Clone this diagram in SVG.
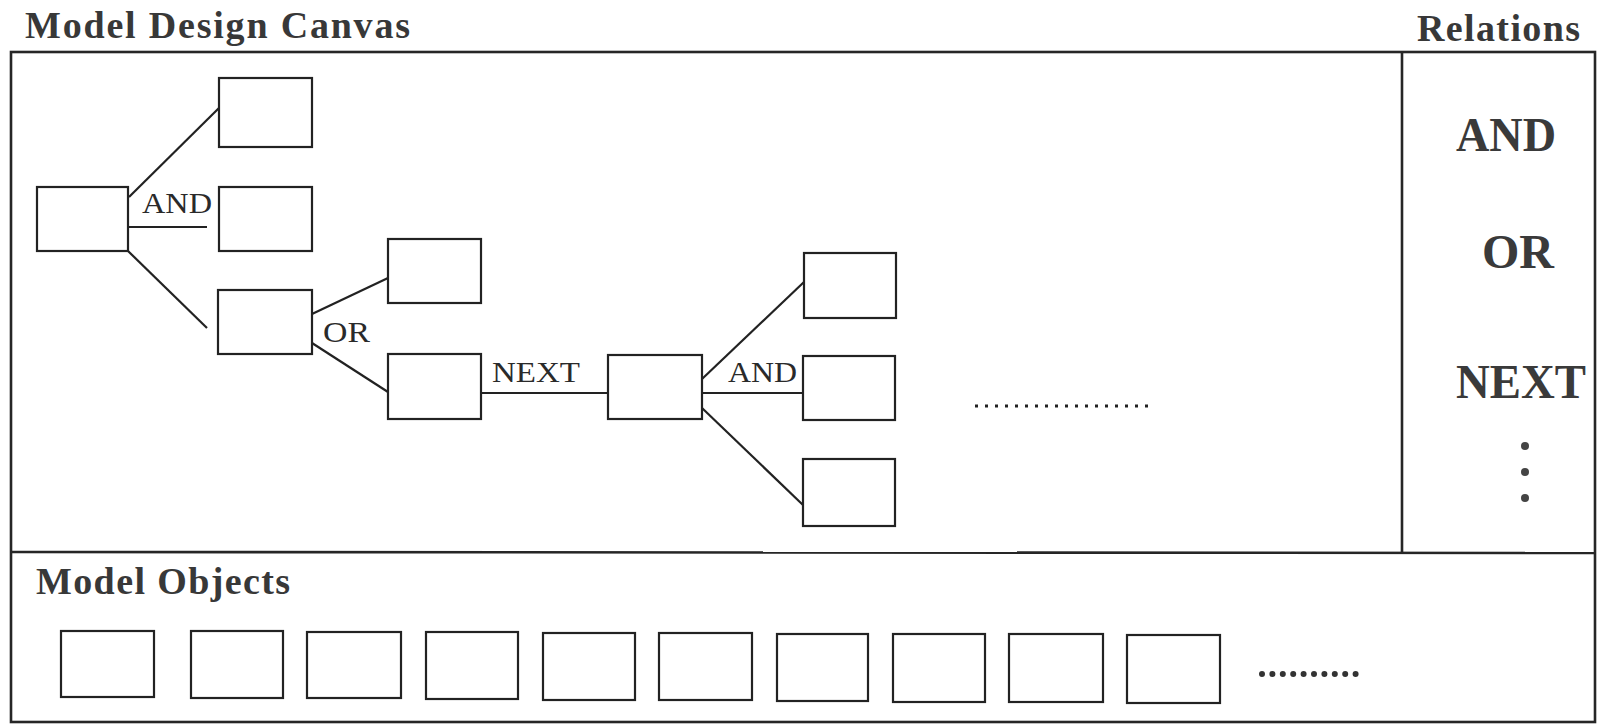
<svg xmlns="http://www.w3.org/2000/svg" width="1607" height="726" viewBox="0 0 1607 726">
<style>
  .frame{fill:none;stroke:#262626;stroke-width:2.6}
  .box{fill:none;stroke:#222;stroke-width:2.2}
  .conn{stroke:#222;stroke-width:2.2;fill:none}
  .hdr{font-family:"Liberation Serif","Times New Roman",serif;font-weight:bold;font-size:38px;fill:#383838}
  .rel{font-family:"Liberation Serif","Times New Roman",serif;font-weight:bold;font-size:48px;fill:#3a3a3a}
  .lbl{font-family:"Liberation Serif","Times New Roman",serif;font-size:30px;fill:#2a2a2a}
</style>
<rect width="1607" height="726" fill="#ffffff"/>

<g id="frame">
  <rect class="frame" x="11" y="52" width="1584" height="670"/>
  <line class="frame" x1="11" y1="552" x2="1595" y2="553"/>
  <line class="frame" x1="1402" y1="52" x2="1402" y2="553"/>
</g>

<g id="headers">
  <text class="hdr" x="25" y="38" textLength="385" lengthAdjust="spacing">Model Design Canvas</text>
  <text class="hdr" x="1417" y="41" textLength="163" lengthAdjust="spacing">Relations</text>
  <text class="hdr" x="36" y="594" textLength="254" lengthAdjust="spacing">Model Objects</text>
</g>

<g id="relations">
  <text class="rel" x="1506" y="151" text-anchor="middle" textLength="100" lengthAdjust="spacingAndGlyphs">AND</text>
  <text class="rel" x="1518" y="268" text-anchor="middle" textLength="72" lengthAdjust="spacingAndGlyphs">OR</text>
  <text class="rel" x="1521" y="398" text-anchor="middle" textLength="130" lengthAdjust="spacingAndGlyphs">NEXT</text>
  <circle cx="1525" cy="446" r="4" fill="#444"/>
  <circle cx="1525" cy="472" r="4" fill="#444"/>
  <circle cx="1525" cy="498" r="4" fill="#444"/>
</g>

<g id="connectors">
  <line class="conn" x1="129" y1="197" x2="219" y2="108"/>
  <line class="conn" x1="128" y1="227" x2="207" y2="227"/>
  <line class="conn" x1="128" y1="251" x2="207" y2="328"/>
  <line class="conn" x1="312" y1="314" x2="388" y2="278"/>
  <line class="conn" x1="312" y1="343" x2="388" y2="392"/>
  <line class="conn" x1="481" y1="393" x2="608" y2="393"/>
  <line class="conn" x1="702" y1="379" x2="804" y2="282"/>
  <line class="conn" x1="702" y1="393" x2="803" y2="393"/>
  <line class="conn" x1="702" y1="408" x2="803" y2="505"/>
  <text class="lbl" x="142" y="213" textLength="70" lengthAdjust="spacingAndGlyphs">AND</text>
  <text class="lbl" x="323" y="342" textLength="47" lengthAdjust="spacingAndGlyphs">OR</text>
  <text class="lbl" x="492" y="382" textLength="88" lengthAdjust="spacingAndGlyphs">NEXT</text>
  <text class="lbl" x="728" y="382" textLength="69" lengthAdjust="spacingAndGlyphs">AND</text>
</g>

<g id="n-root"><rect class="box" x="37" y="187" width="91" height="64"/></g>
<g id="n-and-top"><rect class="box" x="219" y="78" width="93" height="69"/></g>
<g id="n-and-mid"><rect class="box" x="219" y="187" width="93" height="64"/></g>
<g id="n-or-parent"><rect class="box" x="218" y="290" width="94" height="64"/></g>
<g id="n-or-top"><rect class="box" x="388" y="239" width="93" height="64"/></g>
<g id="n-or-bottom"><rect class="box" x="388" y="354" width="93" height="65"/></g>
<g id="n-next"><rect class="box" x="608" y="355" width="94" height="64"/></g>
<g id="n-r1"><rect class="box" x="804" y="253" width="92" height="65"/></g>
<g id="n-r2"><rect class="box" x="803" y="356" width="92" height="64"/></g>
<g id="n-r3"><rect class="box" x="803" y="459" width="92" height="67"/></g>

<g id="canvas-more">
  <line x1="975" y1="406" x2="1150" y2="406" stroke="#222" stroke-width="3" stroke-dasharray="3 7"/>
</g>

<g id="objects">
  <rect class="box" x="61" y="631" width="93" height="66"/>
  <rect class="box" x="191" y="631" width="92" height="67"/>
  <rect class="box" x="307" y="632" width="94" height="66"/>
  <rect class="box" x="426" y="632" width="92" height="67"/>
  <rect class="box" x="543" y="633" width="92" height="67"/>
  <rect class="box" x="659" y="633" width="93" height="67"/>
  <rect class="box" x="777" y="634" width="91" height="67"/>
  <rect class="box" x="893" y="634" width="92" height="68"/>
  <rect class="box" x="1009" y="634" width="94" height="68"/>
  <rect class="box" x="1127" y="635" width="93" height="68"/>
  <line x1="1262" y1="674" x2="1356" y2="674" stroke="#333" stroke-width="6" stroke-linecap="round" stroke-dasharray="0 10.4"/>
</g>
</svg>
